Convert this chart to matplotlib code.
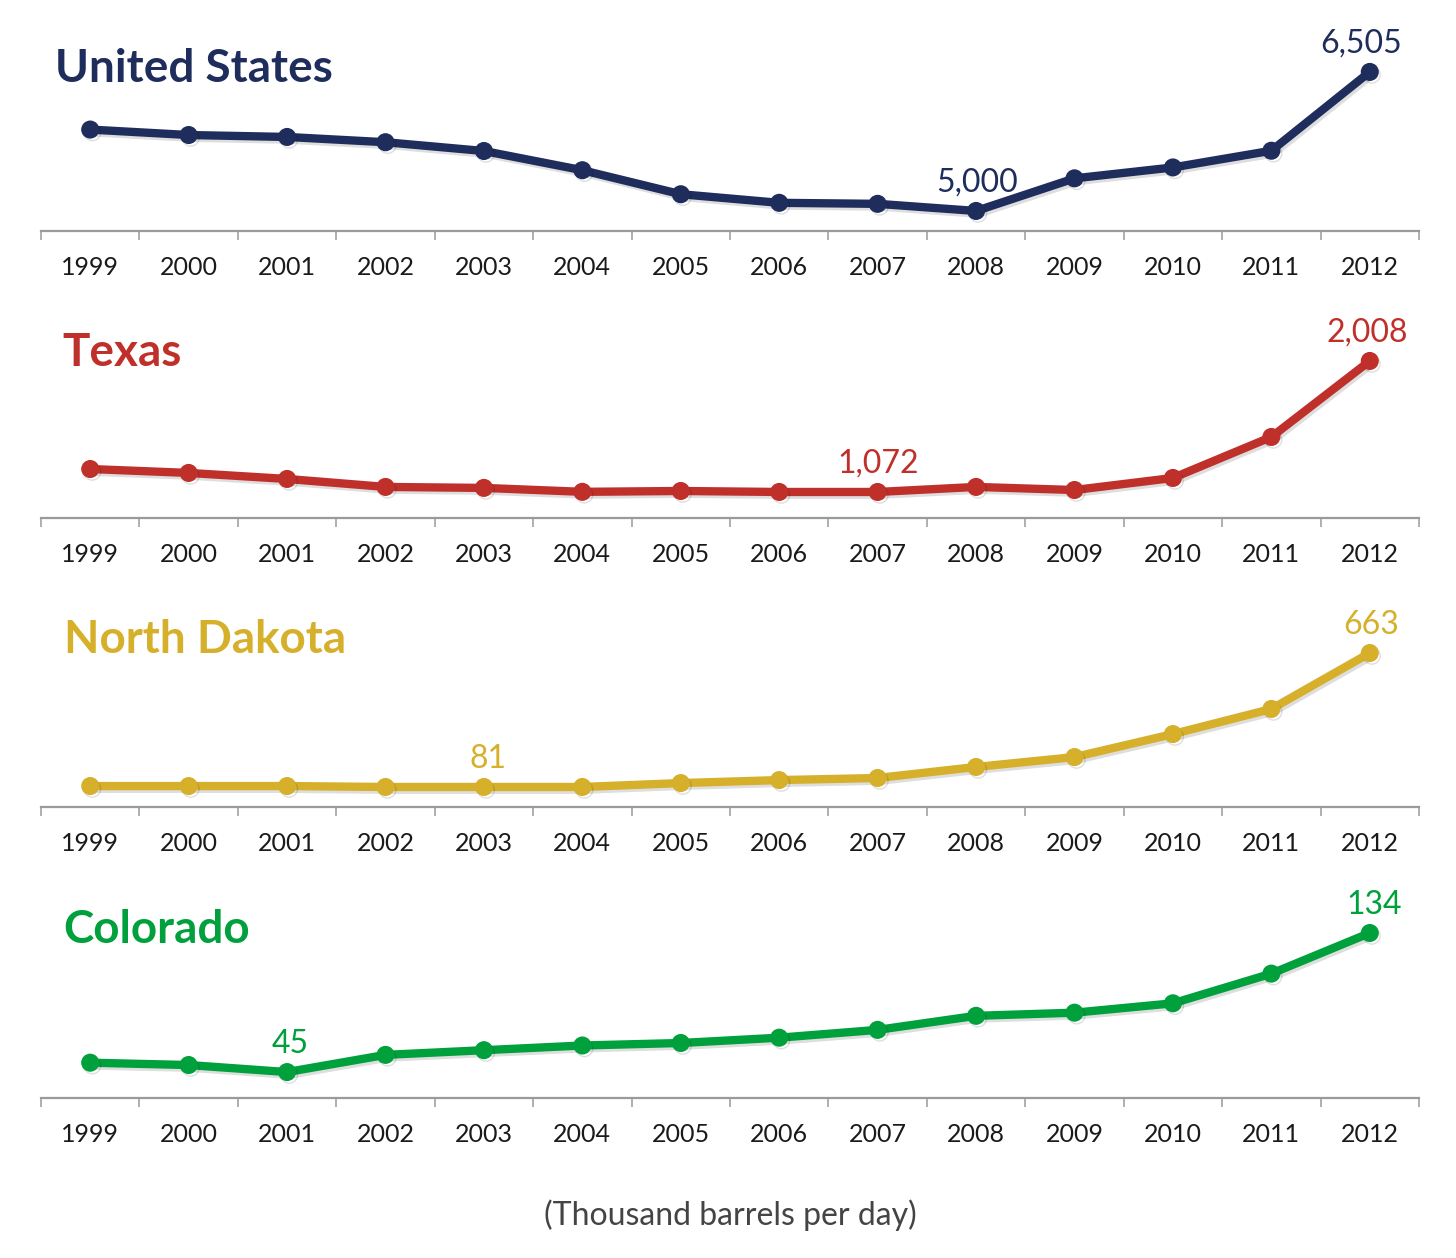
import matplotlib
matplotlib.use("Agg")
import matplotlib.pyplot as plt
import matplotlib.patheffects as pe
from matplotlib.ticker import FixedLocator, NullFormatter, FixedFormatter
import numpy as np

plt.rcParams['font.family'] = ['Lato', 'DejaVu Sans']

years = ["1999", "2000", "2001", "2002", "2003", "2004", "2005",
         "2006", "2007", "2008", "2009", "2010", "2011", "2012"]

us_values = [5881, 5822, 5801, 5744, 5649, 5441, 5181,
             5088, 5077, 5000, 5353, 5471, 5652, 6505]
texas_values = [1236, 1208, 1165, 1108, 1101, 1073, 1079,
                1072, 1072, 1108, 1086, 1172, 1465, 2008]
nd_values = [85, 85, 85, 81, 81, 81, 98,
             111, 120, 168, 211, 311, 420, 663]
co_values = [51, 49.5, 45, 56, 59, 62, 63.6,
             67, 72, 81, 83, 89, 108, 134]

names = ["United States", "Texas", "North Dakota", "Colorado"]
series = [us_values, texas_values, nd_values, co_values]
colors = ["#1f2d5c", "#c0302b", "#d6b02b", "#00a13c"]
# which points get a value label
labelled = [[9, 13], [8, 13], [4, 13], [2, 13]]
labels_text = [["5,000", "6,505"], ["1,072", "2,008"], ["81", "663"], ["45", "134"]]
label_dx = [[1, -6], [0, -2], [3, 1], [2, 3]]

W, H = 1456, 1258
fig = plt.figure(figsize=(W / 100, H / 100), dpi=100)
fig.patch.set_facecolor("white")
bg = fig.add_axes([4 / W, 0, 1, 1 - 8 / H], zorder=-10)
bg.set_facecolor("#f2f2f2")
bg.axis("off")
bg.patch.set_visible(True)

# panel layout (pixels from top)
axis_y = [231, 518, 807, 1098]
panel_h = 200
ylims = [(4783, 6948), (886, 2315), (-6, 863), (28.4, 156.4)]
title_pos = [(55, 82), (62, 366), (64, 653), (63, 943)]

x = np.arange(len(years))

for i in range(4):
    left = 41 / W
    width = (1419 - 41) / W
    bottom = 1 - axis_y[i] / H
    ax = fig.add_axes([left, bottom, width, panel_h / H])
    ax.set_facecolor("none")
    ax.plot(x, series[i], color=colors[i], linewidth=6, marker="o", markersize=12,
            solid_capstyle="round", clip_on=False,
            path_effects=[pe.SimpleLineShadow(offset=(1.5, -2), alpha=0.13, shadow_color="black"),
                          pe.Normal()])
    ax.set_xlim(-0.5, len(years) - 0.5)
    ax.set_ylim(*ylims[i])

    for s in ["top", "right", "left"]:
        ax.spines[s].set_visible(False)
    ax.spines["bottom"].set_color("#9a9a9a")
    ax.spines["bottom"].set_linewidth(1.6)
    ax.set_yticks([])

    ax.xaxis.set_major_locator(FixedLocator(np.arange(-0.5, len(years), 1.0)))
    ax.xaxis.set_major_formatter(NullFormatter())
    ax.xaxis.set_minor_locator(FixedLocator(x))
    ax.xaxis.set_minor_formatter(FixedFormatter(years))
    ax.tick_params(axis="x", which="major", length=6.5, width=1.1, color="#9a9a9a", direction="out")
    ax.tick_params(axis="x", which="minor", length=0, pad=18, labelsize=18, labelcolor="#1a1a1a")

    for idx, txt, dx in zip(labelled[i], labels_text[i], label_dx[i]):
        ax.annotate(txt, (x[idx], series[i][idx]), xytext=(dx, 14), textcoords="offset points",
                    ha="center", va="baseline", fontsize=23, color=colors[i])

    tx, ty = title_pos[i]
    fig.text(tx / W, 1 - ty / H, names[i], fontsize=33, fontweight="bold",
             color=colors[i], ha="left", va="baseline")

fig.text(730 / W, 1 - 1215 / H, "(Thousand barrels per day)", fontsize=23,
         color="#444444", ha="center", va="center")

fig.savefig("out.png", dpi=100, facecolor=fig.get_facecolor())
